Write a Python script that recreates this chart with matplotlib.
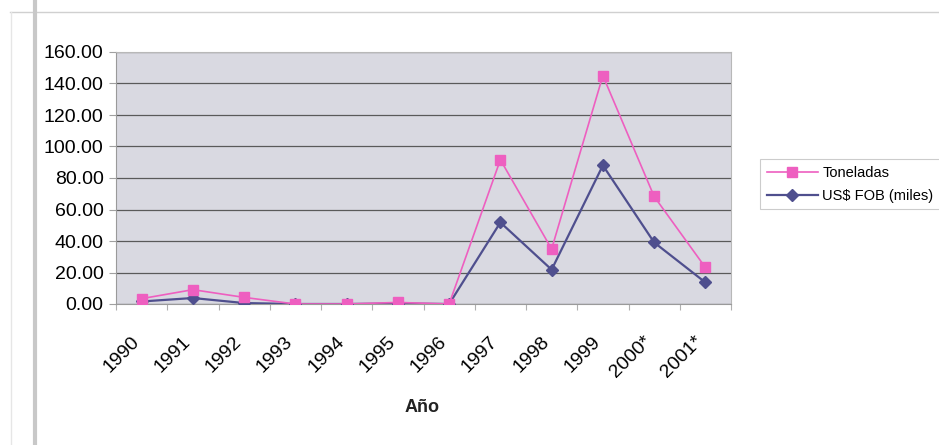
import matplotlib.pyplot as plt
from matplotlib.ticker import FormatStrFormatter, FixedLocator
from matplotlib.lines import Line2D
from matplotlib.transforms import ScaledTranslation, blended_transform_factory

# --- Data ---
years = ['1990', '1991', '1992', '1993', '1994', '1995', '1996',
         '1997', '1998', '1999', '2000*', '2001*']
toneladas = [3.4, 9.1, 4.2, 0.0, 0.0, 1.0, 0.0, 91.6, 34.9, 145.0, 68.3, 23.2]
fob_miles = [1.6, 3.8, 0.6, 0.0, 0.0, 0.3, 0.0, 51.8, 21.8, 88.0, 39.1, 13.7]

pink = '#ee5fc0'
navy = '#4f4f8e'

plt.rcParams['font.family'] = ['Liberation Sans', 'DejaVu Sans']

fig = plt.figure(figsize=(9.39, 4.45), dpi=100)
W, H = 939, 445

# scan artefacts: page border lines
fig.add_artist(Line2D([10 / W, 1], [1 - 12 / H, 1 - 12 / H], color='#d0d0d0', lw=1.0))
fig.add_artist(Line2D([34.5 / W, 34.5 / W], [0, 1], color='#c8c8c8', lw=3.0))
fig.add_artist(Line2D([11 / W, 11 / W], [0, 1 - 12 / H], color='#e6e6e6', lw=1.0))

ax = fig.add_axes([116 / W, 1 - 304 / H, 615 / W, 252 / H])
ax.set_facecolor('#d9d9e1')

x = list(range(len(years)))
ax.plot(x, fob_miles, color=navy, lw=1.6, marker='D', markersize=6.5,
        markeredgecolor=navy, markerfacecolor=navy, label='US$ FOB (miles)', zorder=3)
ax.plot(x, toneladas, color=pink, lw=1.2, marker='s', markersize=7.5,
        markeredgecolor=pink, markerfacecolor=pink, label='Toneladas', zorder=4)

ax.set_xlim(-0.5, len(years) - 0.5)
ax.set_ylim(0, 160)
ax.set_yticks(range(0, 161, 20))
ax.yaxis.set_major_formatter(FormatStrFormatter('%.2f'))
ax.grid(axis='y', color='#5a5a5a', lw=0.9)
ax.set_axisbelow(True)

# Excel style: ticks on category boundaries, labels drawn at centres
ax.xaxis.set_major_locator(FixedLocator([i - 0.5 for i in range(len(years) + 1)]))
ax.set_xticklabels([''] * (len(years) + 1))
ax.tick_params(axis='x', which='major', length=4, color='#b0b0b0', direction='out')
ax.tick_params(axis='y', length=5, color='#a0a0a0', labelsize=14, pad=4)

lab_tr = blended_transform_factory(ax.transData, ax.transAxes) + \
    ScaledTranslation(-11 / 100, -29 / 100, fig.dpi_scale_trans)
for i, yr in zip(x, years):
    ax.text(i, 0, yr, transform=lab_tr, rotation=45, rotation_mode='anchor',
            ha='right', va='top', fontsize=14, clip_on=False)

for side in ['top', 'right']:
    ax.spines[side].set_color('#b8b8b8')
for side in ['left', 'bottom']:
    ax.spines[side].set_color('#9a9a9a')

fig.text(422 / W, 1 - 408 / H, 'Año', ha='center', va='center',
         fontsize=13, fontweight='bold', color='#222222')

handles, labels = ax.get_legend_handles_labels()
leg = fig.legend(handles[::-1], labels[::-1], loc='upper left',
                 bbox_to_anchor=(753 / W, 1 - 152 / H), frameon=True,
                 fontsize=10.5, fancybox=False, handlelength=3.5,
                 borderpad=0.45, labelspacing=0.6, handletextpad=0.3)
leg.get_frame().set_edgecolor('#c0c0c0')
leg.get_frame().set_linewidth(0.8)

fig.savefig('out.png', dpi=100)
